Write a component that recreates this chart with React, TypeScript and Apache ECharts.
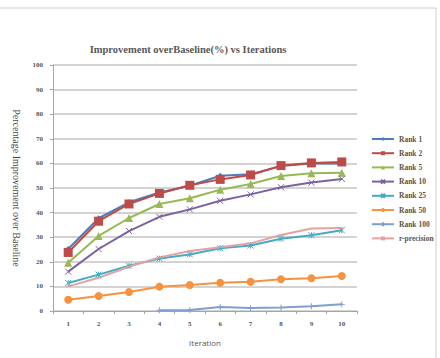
import React, { useEffect, useRef } from "react";
import * as echarts from "echarts";

const categories = ["1", "2", "3", "4", "5", "6", "7", "8", "9", "10"];
const rank1 = [25.2, 37.7, 44.2, 48.2, 50.9, 55.0, 55.6, 58.9, 60.0, 60.0];
const rank2 = [23.8, 36.5, 43.5, 47.8, 51.1, 53.5, 55.3, 59.1, 60.2, 60.6];
const rank5 = [19.6, 30.5, 37.8, 43.5, 45.8, 49.3, 51.6, 54.9, 56.0, 56.2];
const rank10 = [16.0, 25.2, 32.5, 38.3, 41.3, 44.8, 47.4, 50.3, 52.2, 53.7];
const rank25 = [11.4, 14.8, 18.4, 21.3, 23.0, 25.5, 26.6, 29.4, 30.8, 32.8];
const rank50 = [4.6, 6.1, 7.7, 9.9, 10.6, 11.5, 11.9, 12.9, 13.3, 14.2];
const rank100 = [null, null, null, 0.3, 0.4, 1.6, 1.2, 1.4, 1.9, 2.7];
const rPrecision = [10.0, 13.5, 18.0, 21.8, 24.4, 25.9, 27.5, 30.9, 33.5, 33.7];

const serif = "Liberation Serif";
const textColor = "#555555";

const X_SYM = "path://M0,0L10,10M10,0L0,10";
const STAR_SYM = "path://M0,0L10,10M10,0L0,10M5,0L5,10";
const PLUS_SYM = "path://M5,0L5,10M0,5L10,5";
const DASH_SYM = "path://M0,0L10,0L10,2L0,2Z";

export default function App() {
  const ref = useRef<HTMLDivElement>(null);
  useEffect(() => {
    const chart = echarts.init(ref.current!, null, { renderer: "svg" });
    const mk = (name: string, data: any[], color: string, symbol: string, size: any, stroked = false) => ({
      name,
      type: "line",
      data,
      symbol,
      symbolSize: size,
      showSymbol: true,
      lineStyle: { width: 2, color },
      itemStyle: stroked
        ? { color: "rgba(255,255,255,0)", borderColor: color, borderWidth: 1 }
        : { color },
      connectNulls: false,
    });
    chart.setOption({
      animation: false,
      backgroundColor: "#ffffff",
      title: {
        text: "Improvement overBaseline(%) vs Iterations",
        left: 183,
        textAlign: "center",
        top: 39,
        textStyle: { fontFamily: serif, fontSize: 10.5, fontWeight: "bold", color: "#595959" },
      },
      graphic: [
        {
          type: "rect",
          shape: { x: -1, y: 8, width: 437, height: 360 },
          style: { fill: "none", stroke: "#cfcfcf", lineWidth: 1 },
          silent: true,
          z: -1,
        },
      ],
      legend: {
        orient: "vertical",
        left: 366,
        top: 130,
        itemWidth: 22,
        itemHeight: 5,
        itemGap: 6.2,
        textStyle: { fontFamily: serif, fontSize: 7.5, fontWeight: "bold", color: textColor },
        data: ["Rank 1", "Rank 2", "Rank 5", "Rank 10", "Rank 25", "Rank 50", "Rank 100", "r-precision"],
      },
      grid: { left: 53, right: 83, top: 65, bottom: 47, containLabel: false },
      xAxis: {
        type: "category",
        data: categories,
        boundaryGap: true,
        name: "Iteration",
        nameLocation: "middle",
        nameGap: 27,
        nameTextStyle: { fontFamily: "Open Sans", fontSize: 8, color: textColor },
        axisLine: { lineStyle: { color: "#a6a6a6", width: 1 } },
        axisTick: { show: true, lineStyle: { color: "#a6a6a6" }, length: 3 },
        axisLabel: { fontFamily: serif, fontSize: 7, fontWeight: "bold", color: textColor, margin: 9 },
      },
      yAxis: {
        type: "value",
        min: 0,
        max: 100,
        interval: 10,
        name: "Percentage Improvement over Baseline",
        nameLocation: "middle",
        nameRotate: -90,
        nameGap: 24,
        nameTextStyle: { fontFamily: serif, fontSize: 10, color: "#444444" },
        axisLine: { show: true, lineStyle: { color: "#a6a6a6", width: 1 } },
        axisTick: { show: true, lineStyle: { color: "#a6a6a6" }, length: 3 },
        splitLine: { lineStyle: { color: "#c4c4c4", width: 1.5 } },
        axisLabel: { fontFamily: serif, fontSize: 7, fontWeight: "bold", color: textColor, margin: 10 },
      },
      series: [
        mk("Rank 1", rank1, "#4a7ebb", "diamond", 6),
        mk("Rank 2", rank2, "#be4b48", "rect", 9),
        mk("Rank 5", rank5, "#98b954", "triangle", 8),
        mk("Rank 10", rank10, "#7d60a0", X_SYM, 6, true),
        mk("Rank 25", rank25, "#46aac5", STAR_SYM, 6, true),
        mk("Rank 50", rank50, "#f69240", "circle", 8),
        mk("Rank 100", rank100, "#7f9fcf", PLUS_SYM, 6, true),
        mk("r-precision", rPrecision, "#e4a3a1", DASH_SYM, [5, 1]),
      ],
    });
    return () => chart.dispose();
  }, []);
  return <div ref={ref} style={{ width: 440, height: 358, position: "absolute", left: 0, top: 0 }} />;
}
